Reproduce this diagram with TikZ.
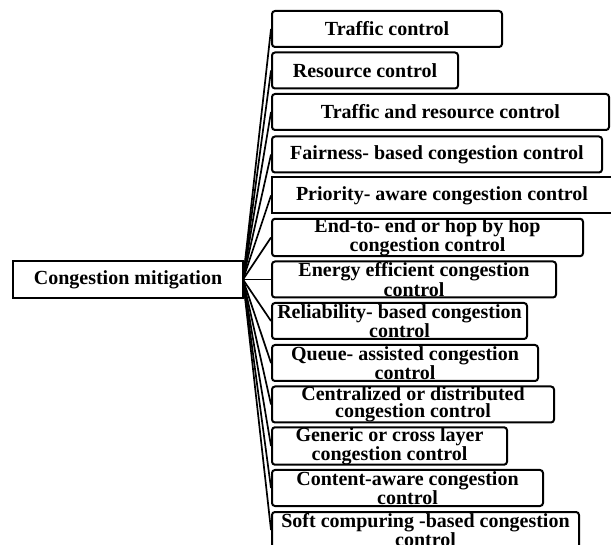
\documentclass[tikz,border=0pt]{standalone}
\usepackage{fontspec}
\setmainfont{Liberation Serif}
\begin{document}
\begin{tikzpicture}[x=1pt,y=-1pt,
  lbl/.style={font=\bfseries\fontsize{20}{17}\selectfont, align=center, inner sep=0pt},
  subbox/.style={lbl, draw, line width=2pt, rounded corners=3pt, minimum height=36pt},
  mainbox/.style={lbl, draw, line width=2pt, minimum height=37pt, minimum width=230pt},
  link/.style={line width=1.7pt}]
\useasboundingbox (0,0) rectangle (611,545);
\clip (0,0) rectangle (611,545);
\node[mainbox] (main) at (128,279.5) {Congestion mitigation};
\coordinate (hub) at (243,279.5);
\node[subbox, minimum width=230pt] (b1) at (387,29) {Traffic control};
\node[subbox, minimum width=186pt] (b2) at (365,70.5) {Resource control};
\node[subbox, minimum width=337pt] (b3) at (440.5,112) {Traffic and resource control};
\node[subbox, minimum width=330pt] (b4) at (437,154.5) {Fairness- based congestion control};
\node[subbox, rounded corners=0pt, minimum width=340pt] (b5) at (442,195.5) {Priority- aware congestion control};
\node[subbox, minimum width=311pt] (b6) at (427.5,237.5) {End-to- end or hop by hop\\congestion control};
\node[subbox, minimum width=284pt] (b7) at (414,279.5) {Energy efficient congestion\\control};
\node[subbox, minimum width=255pt] (b8) at (399.5,321) {Reliability- based congestion\\control};
\node[subbox, minimum width=266pt] (b9) at (405,363) {Queue- assisted congestion\\control};
\node[subbox, minimum width=282pt] (b10) at (413,404.5) {Centralized or distributed\\congestion control};
\node[subbox, minimum width=235pt] (b11) at (389.5,446) {Generic or cross layer\\congestion control};
\node[subbox, minimum width=271pt] (b12) at (407.5,488) {Content-aware congestion\\control};
\node[subbox, minimum width=307pt] (b13) at (425.5,530) {Soft compuring -based congestion\\control};
\foreach \i in {1,...,13} \draw[link] (hub) -- (b\i.west);
\end{tikzpicture}
\end{document}
